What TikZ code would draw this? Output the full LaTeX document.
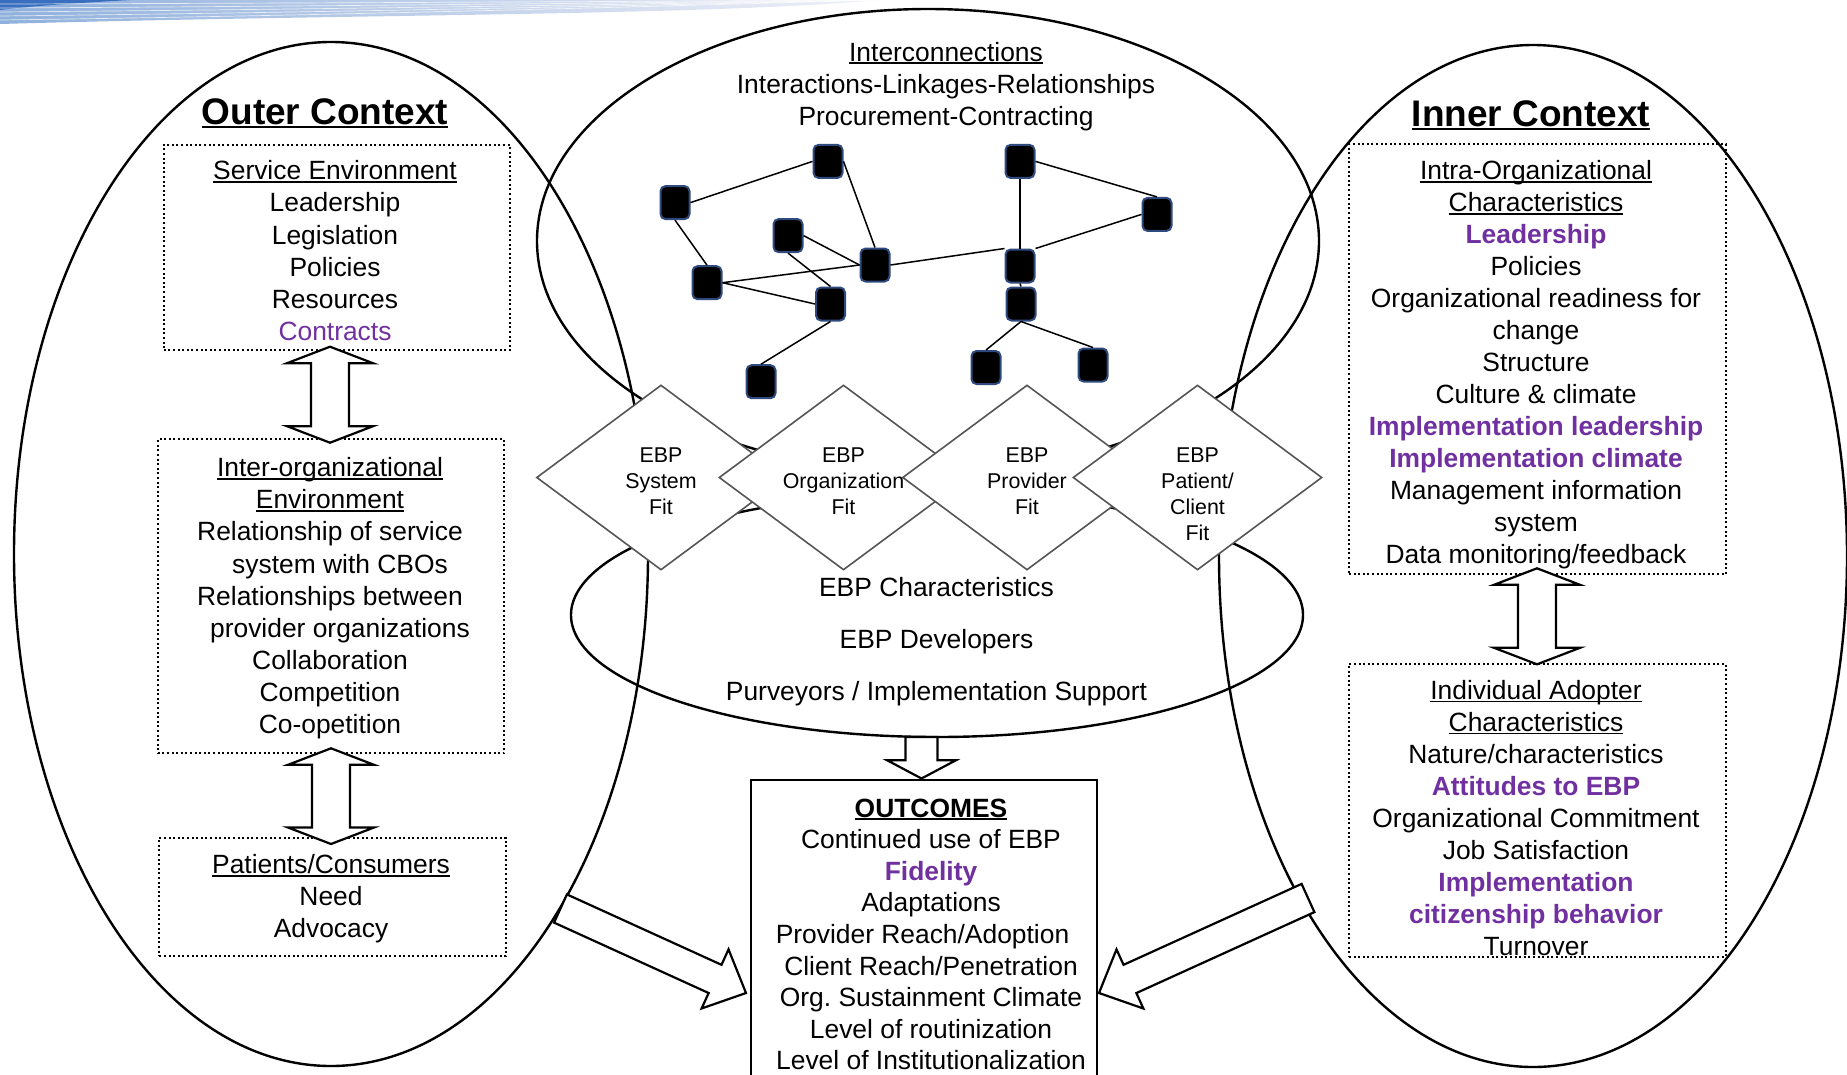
\documentclass[tikz,border=0pt]{standalone}
\usepackage{fontspec}
\setmainfont{Liberation Sans}
\usetikzlibrary{shapes.geometric,calc}
\frenchspacing

\definecolor{hlpurple}{HTML}{7030A0}
\definecolor{netblue}{HTML}{2F4A7E}
\definecolor{diagray}{HTML}{555555}
\definecolor{bandA}{HTML}{8FB0DC}
\definecolor{bandB}{HTML}{C9D6EA}
\definecolor{bandC}{HTML}{F0F0F7}
\definecolor{bandDark}{HTML}{3A6FC0}

% underline at a fixed depth below the baseline
\newsavebox\ulbox
\newcommand\ul[1]{\sbox\ulbox{#1}\rlap{\rule[-0.12em]{\wd\ulbox}{0.065em}}\usebox\ulbox}
% highlighted (bold purple) entries
\newcommand\hl[1]{\textcolor{hlpurple}{\bfseries #1}}

% one text node per line: name, style, x, first baseline, line skip, lines
\newcommand\textlines[6]{%
  \foreach \tline [count=\tidx from 0] in {#6}{%
    \node[#2] (#1-\tidx) at (#3,{#4+\tidx*#5}) {\tline};}}

% wide block arrow: tail, tip, shaft half width, head half width, head length
\newcommand\fatarrow[5]{%
  \coordinate (fa-base) at ($(#2)!#5!(#1)$);
  \draw[blockarrow] ($(#1)!#3!90:(#2)$) -- ($(fa-base)!#3!90:(#2)$)
    -- ($(fa-base)!#4!90:(#2)$) -- (#2) -- ($(fa-base)!#4!-90:(#2)$)
    -- ($(fa-base)!#3!-90:(#2)$) -- ($(#1)!#3!-90:(#2)$) -- cycle;}

% vertical two-headed block arrow between a top tip and a bottom tip
\newcommand\dblarrow[2]{%
  \draw[blockarrow] let \p1=(#1), \p2=(#2) in
    (\x1,\y1) -- (\x1+43pt,\y1-16.5pt) -- (\x1+19pt,\y1-16.5pt)
    -- (\x1+19pt,\y2+16.5pt) -- (\x1+43pt,\y2+16.5pt) -- (\x1,\y2)
    -- (\x1-43pt,\y2+16.5pt) -- (\x1-19pt,\y2+16.5pt)
    -- (\x1-19pt,\y1-16.5pt) -- (\x1-43pt,\y1-16.5pt) -- cycle;}

\begin{document}
\begin{tikzpicture}[x=1pt,y=-1pt,
  txt/.style={anchor=base, inner sep=0pt, font=\fontsize{26.4}{32.1}\selectfont},
  dtxt/.style={anchor=base, inner sep=0pt, font=\fontsize{21.4}{26}\selectfont},
  title/.style={anchor=base, inner sep=0pt, font=\fontsize{37}{44}\selectfont\bfseries},
  ctx/.style={line width=2.4pt},
  dotbox/.style={draw, line width=2pt, dash pattern=on 2pt off 2.6pt,
    inner sep=0pt, anchor=north west},
  netnode/.style={draw=netblue, fill=black, line width=2pt, rounded corners=5pt,
    minimum width=29pt, minimum height=33pt, inner sep=0pt},
  netedge/.style={line width=1.5pt},
  fitdiamond/.style={diamond, draw=diagray, fill=white, line width=1.6pt,
    minimum width=249pt, minimum height=185pt, inner sep=0pt},
  blockarrow/.style={draw, fill=white, line width=2.2pt, line join=miter},
  outbox/.style={draw, fill=white, line width=2pt, inner sep=0pt, anchor=north west}]

\useasboundingbox (0,0) rectangle (1847,1074);

% decorative band along the top edge
\shade[left color=bandA, middle color=bandB, right color=bandC]
  (0,0) -- (880,0) .. controls (700,16) and (350,14) .. (0,24) -- cycle;
\fill[bandDark] (0,0) -- (130,0) .. controls (80,3) and (30,6) .. (0,10) -- cycle;
\foreach \s in {4,8,12,16,20}
  \draw[white, line width=0.7pt, opacity=0.7]
    (0,\s) .. controls (300,{\s*0.8}) and (600,{\s*0.4}) .. (880,0);

% context ellipses
\draw[ctx] (331,554) ellipse [x radius=317, y radius=512];
\draw[ctx] (1533,556) ellipse [x radius=314, y radius=511];
\draw[ctx] (928,241) ellipse [x radius=391, y radius=232];
\draw[ctx] (937,615) ellipse [x radius=366, y radius=122];

% interconnection network
\node[netnode] (n1)  at (675,202.6) {};
\node[netnode] (n2)  at (828,161.4) {};
\node[netnode] (n3)  at (788,235.6) {};
\node[netnode] (n4)  at (875,265) {};
\node[netnode] (n5)  at (707,282.7) {};
\node[netnode] (n6)  at (830.5,304) {};
\node[netnode] (n7)  at (761,381.7) {};
\node[netnode] (n8)  at (1020,161.4) {};
\node[netnode] (n9)  at (1157,214.4) {};
\node[netnode] (n10) at (1020,266) {};
\node[netnode] (n11) at (1021,304) {};
\node[netnode] (n12) at (986,367.5) {};
\node[netnode] (n13) at (1093,365) {};
\draw[netedge] (n1.east) -- (n2.west);
\draw[netedge] (n1.south) -- (n5.north);
\draw[netedge] (n2.east) -- (n4.north);
\draw[netedge] (n3.east) -- (n4.west);
\draw[netedge] (n3.south) -- (n6.north);
\draw[netedge] (n5.east) -- (n4.west);
\draw[netedge] (n5.east) -- (n6.west);
\draw[netedge] (n6.south) -- (n7.north);
\draw[netedge] (n4.east) -- (n10.north west);
\draw[netedge] (n8.south) -- (n10.north);
\draw[netedge] (n8.east) -- (n9.north);
\draw[netedge] (n9.west) -- (n10.north east);
\draw[netedge] (n10.south) -- (n11.north);
\draw[netedge] (n11.south) -- (n12.north);
\draw[netedge] (n11.south) -- (n13.north);

% fit diamonds
\node[fitdiamond] (d1) at (661,477.5) {};
\node[fitdiamond] (d2) at (843.5,477.5) {};
\node[fitdiamond] (d3) at (1027,477.5) {};
\node[fitdiamond] (d4) at (1197.5,477.5) {};
\textlines{d1t}{dtxt}{661}{462}{26}{EBP, System, Fit}
\textlines{d2t}{dtxt}{843.5}{462}{26}{EBP, Organization, Fit}
\textlines{d3t}{dtxt}{1027}{462}{26}{EBP, Provider, Fit}
\textlines{d4t}{dtxt}{1197.5}{462}{26}{EBP, Patient/, Client, Fit}

% interconnections header
\textlines{ic}{txt}{946}{61}{32.1}{\ul{Interconnections},
  Interactions-Linkages-Relationships, Procurement-Contracting}

% EBP characteristics
\textlines{ebp}{txt}{936.5}{596.8}{51.9}{EBP Characteristics, EBP Developers,
  Purveyors / Implementation Support}

% outer context
\node[title] (outer) at (325,124) {\ul{Outer Context}};
\node[dotbox, minimum width=346.3pt, minimum height=205.3pt] (svc) at (162.7,143.7) {};
\node[dotbox, minimum width=346.3pt, minimum height=314pt] (inter) at (156.7,438.3) {};
\node[dotbox, minimum width=346.7pt, minimum height=118.3pt] (pat) at (158.3,836.7) {};
\textlines{svct}{txt}{335}{179.8}{32.1}{\ul{Service Environment}, Leadership,
  Legislation, Policies, Resources, \textcolor{hlpurple}{Contracts}}
\textlines{intert}{txt}{330}{476.7}{32.1}{\ul{Inter-organizational},
  \ul{Environment}, Relationship of service, \hspace*{20pt}system with CBOs,
  Relationships between, \hspace*{20pt}provider organizations, Collaboration,
  Competition, Co-opetition}
\textlines{patt}{txt}{331}{873.7}{32.1}{\ul{Patients/Consumers}, Need, Advocacy}
\coordinate (a1top) at (330,346.7);
\coordinate (a1bot) at (330,442.7);
\coordinate (a2top) at (331,748.3);
\coordinate (a2bot) at (331,844);
\dblarrow{a1top}{a1bot}
\dblarrow{a2top}{a2bot}

% inner context
\node[title] (inner) at (1531,126) {\ul{Inner Context}};
\node[dotbox, minimum width=376.8pt, minimum height=430pt] (intra) at (1348,143.3) {};
\node[dotbox, minimum width=376.8pt, minimum height=293pt] (indiv) at (1348,662.7) {};
\textlines{intrat}{txt}{1536}{179.8}{32}{\ul{Intra-Organizational},
  \ul{Characteristics}, \hl{Leadership}, Policies, Organizational readiness for,
  change, Structure, Culture \& climate, \hl{Implementation leadership},
  \hl{Implementation climate}, Management information, system,
  Data monitoring/feedback}
\textlines{indivt}{txt}{1536}{699.2}{32}{\ul{Individual Adopter},
  \ul{Characteristics}, Nature/characteristics, \hl{Attitudes to EBP},
  Organizational Commitment, Job Satisfaction, \hl{Implementation},
  \hl{citizenship behavior}, Turnover}
\coordinate (a3top) at (1537,568.3);
\coordinate (a3bot) at (1537,664.3);
\dblarrow{a3top}{a3bot}

% outcomes
\node[outbox, minimum width=346.5pt, minimum height=330pt] (oc) at (749.5,779.3) {};
\textlines{oct}{txt}{931}{817}{31.6}{\ul{\bfseries OUTCOMES}, Continued use of EBP,
  \hl{Fidelity}, Adaptations, Provider Reach/Adoption\hspace*{17pt},
  Client Reach/Penetration, Org. Sustainment Climate, Level of routinization,
  Level of Institutionalization}

% flows into the outcomes
\coordinate (da-tail) at (921.5,737);
\coordinate (da-tip) at (921.5,778.5);
\fatarrow{da-tail}{da-tip}{16pt}{34.5pt}{18.3pt}
\coordinate (la-tail) at (560.5,908.5);
\coordinate (la-tip) at (746,993);
\fatarrow{la-tail}{la-tip}{15.5pt}{32.5pt}{34pt}
\coordinate (ra-tail) at (1308,898);
\coordinate (ra-tip) at (1099,993);
\fatarrow{ra-tail}{ra-tip}{15.5pt}{32.5pt}{34pt}
\end{tikzpicture}
\end{document}
